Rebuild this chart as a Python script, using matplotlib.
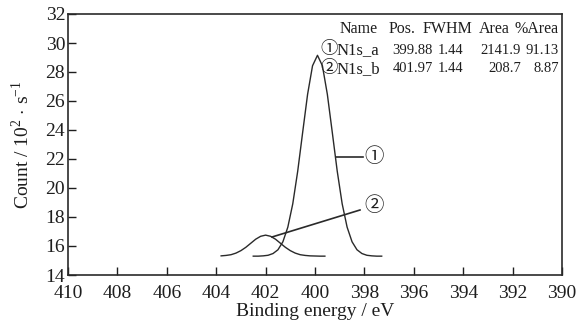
import matplotlib
matplotlib.use("Agg")
import matplotlib.pyplot as plt

plt.rcParams['font.family'] = ['Liberation Serif', 'DejaVu Serif', 'Noto Sans CJK SC']
plt.rcParams['mathtext.fontset'] = 'custom'
plt.rcParams['mathtext.rm'] = 'Liberation Serif'

# Peak 1 (N1s_a)
x1 = [402.5, 402.3, 402.1, 401.9, 401.7, 401.5, 401.3, 401.1, 400.9, 400.7, 400.5, 400.3, 400.1,
      399.9, 399.7, 399.5, 399.3, 399.1, 398.9, 398.7, 398.5, 398.3, 398.1, 397.9, 397.7, 397.5, 397.3]
y1 = [15.30, 15.30, 15.32, 15.36, 15.48, 15.74, 16.29, 17.30, 18.91, 21.16, 23.83, 26.46, 28.43,
      29.15, 28.43, 26.46, 23.83, 21.16, 18.91, 17.30, 16.29, 15.74, 15.48, 15.36, 15.32, 15.30, 15.30]
# Peak 2 (N1s_b)
x2 = [403.8, 403.6, 403.4, 403.2, 403.0, 402.8, 402.6, 402.4, 402.2, 402.0, 401.8, 401.6, 401.4,
      401.2, 401.0, 400.8, 400.6, 400.4, 400.2, 400.0, 399.8, 399.6]
y2 = [15.32, 15.35, 15.40, 15.51, 15.68, 15.91, 16.19, 16.47, 16.67, 16.75, 16.67, 16.47, 16.19,
      15.91, 15.68, 15.51, 15.40, 15.35, 15.32, 15.31, 15.30, 15.30]

x_ticks = [410, 408, 406, 404, 402, 400, 398, 396, 394, 392, 390]
y_ticks = [14, 16, 18, 20, 22, 24, 26, 28, 30, 32]

header = ["Name", "Pos.", "FWHM", "Area", "%Area"]
marks = ["\u2460", "\u2461"]
names = ["N1s_a", "N1s_b"]
rows = [["399.88", "1.44", "2141.9", "91.13"],
        ["401.97", "1.44", "208.7", "8.87"]]

fig = plt.figure(figsize=(5.79, 3.27), dpi=100)
ax = fig.add_axes([68/579, 52/327, 494/579, 261/327])
col = '#1e1e1e'
lc = '#2a2a2a'
ax.plot(x1, y1, color=lc, lw=1.0)
ax.plot(x2, y2, color=lc, lw=1.0)

ax.set_xlim(410, 390)
ax.set_ylim(14, 32)
ax.set_xticks(x_ticks)
ax.set_yticks(y_ticks)
ax.tick_params(direction='in', length=6, width=1.0, labelsize=14, colors=col, pad=2,
               top=False, right=False)
ax.tick_params(axis='x', pad=7)
for s in ax.spines.values():
    s.set_linewidth(1.2)
    s.set_color(lc)

ax.set_xlabel("Binding energy / eV", fontsize=14, color=col, labelpad=1)
ax.set_ylabel("Count / 10$^{2}$ $\\cdot$ s$^{-1}$", fontsize=14, color=col, labelpad=9)

# annotations
def px2data(px, py):
    return 410 - (px - 68) / 24.7, 32 - (py - 14) / 14.5

fam = ['Liberation Serif', 'Noto Sans CJK SC']
a = px2data(336, 156.5); b = px2data(363, 156.5)
ax.plot([a[0], b[0]], [a[1], b[1]], color=lc, lw=1.2)
p = px2data(374, 157)
ax.text(p[0], p[1], "\u2460", fontsize=14, family=fam, ha='center', va='center', color=col)
a = px2data(272, 237); b = px2data(360, 210)
ax.plot([a[0], b[0]], [a[1], b[1]], color=lc, lw=1.2)
p = px2data(374, 206)
ax.text(p[0], p[1], "\u2461", fontsize=14, family=fam, ha='center', va='center', color=col)

# table text
fs = 10.5
hx = [378, 415, 472, 510, 559]
for h, xr in zip(header, hx):
    X, Y = px2data(xr, 29)
    ax.text(X, Y, h, fontsize=11.5, family=fam, ha='right', va='center', color=col)
rx = [433, 463, 521, 559]
for m, n, r, yy in zip(marks, names, rows, [50, 69]):
    X, Y = px2data(329, yy)
    ax.text(X, Y, m, fontsize=12.5, family=fam, ha='center', va='center', color=col)
    X, Y = px2data(337, yy)
    ax.text(X, Y, n, fontsize=12, family=fam, ha='left', va='center', color=col)
    for t, xr in zip(r, rx):
        X, Y = px2data(xr, yy)
        ax.text(X, Y, t, fontsize=fs, family=fam, ha='right', va='center', color=col)

fig.savefig("out.png", dpi=100)
